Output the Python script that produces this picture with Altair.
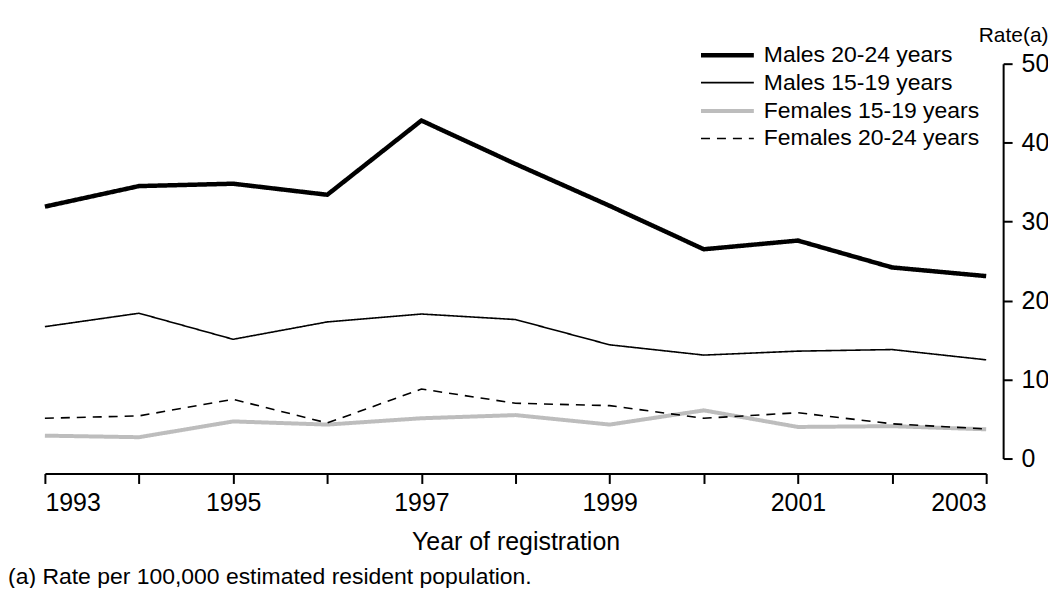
import altair as alt
import pandas as pd

years = list(range(1993, 2004))
males_20_24 = [31.9, 34.5, 34.8, 33.4, 42.8, 37.3, 32.0, 26.5, 27.6, 24.2, 23.1]
males_15_19 = [16.7, 18.4, 15.1, 17.3, 18.3, 17.6, 14.4, 13.1, 13.6, 13.8, 12.5]
females_15_19 = [2.9, 2.7, 4.7, 4.3, 5.1, 5.5, 4.3, 6.1, 4.0, 4.1, 3.7]
females_20_24 = [5.1, 5.4, 7.5, 4.5, 8.8, 7.0, 6.7, 5.1, 5.8, 4.4, 3.75]

series_names = ["Males 20-24 years", "Males 15-19 years",
                "Females 15-19 years", "Females 20-24 years"]
series_values = [males_20_24, males_15_19, females_15_19, females_20_24]
series_colors = ["#000000", "#000000", "#bdbdbd", "#000000"]
series_widths = [4.5, 1.6, 4.0, 1.6]
series_dashes = [[1, 0], [1, 0], [1, 0], [9, 7]]

y_ticks = [0, 10, 20, 30, 40, 50]
x_title = "Year of registration"
y_title = "Rate(a)"
footnote = "(a) Rate per 100,000 estimated resident population."

rows = []
for name, vals in zip(series_names, series_values):
    for yr, v in zip(years, vals):
        rows.append({"year": yr, "rate": v, "series": name})
df = pd.DataFrame(rows)

FONT = "Liberation Sans"

chart = alt.Chart(df).mark_line(strokeJoin="miter", strokeCap="butt").encode(
    x=alt.X("year:Q",
            scale=alt.Scale(domain=[1993, 2003], nice=False, zero=False),
            axis=alt.Axis(values=years, format="d",
                          labelExpr="datum.value % 2 == 1 ? datum.value : ''",
                          offset=15, tickSize=10, labelPadding=7,
                          labelFontSize=25, title=x_title,
                          titleFontSize=25, titleFontWeight="normal",
                          titleY=68, titleBaseline="middle")),
    y=alt.Y("rate:Q",
            scale=alt.Scale(domain=[0, 50], nice=False),
            axis=alt.Axis(orient="right", values=y_ticks, offset=17,
                          tickSize=9, labelPadding=9, labelFontSize=25,
                          title=y_title, titleAngle=0, titleX=45,
                          titleY=-22, titleAlign="right",
                          titleBaseline="alphabetic", titleFontSize=21,
                          titleFontWeight="normal")),
    color=alt.Color("series:N",
                    scale=alt.Scale(domain=series_names, range=series_colors),
                    legend=alt.Legend(title=None)),
    strokeWidth=alt.StrokeWidth("series:N",
                                scale=alt.Scale(type="ordinal", domain=series_names,
                                                range=series_widths),
                                legend=alt.Legend(title=None)),
    strokeDash=alt.StrokeDash("series:N",
                              scale=alt.Scale(domain=series_names, range=series_dashes),
                              legend=alt.Legend(title=None)),
    order=alt.Order("year:Q"),
).properties(
    width=944,
    height=396,
    autosize=alt.AutoSizeParams(type="none"),
    padding={"left": 37, "top": 55, "right": 62, "bottom": 129},
    title=alt.TitleParams(text=footnote, orient="bottom", anchor="start",
                          frame="group", dx=-37, offset=12, fontSize=23,
                          font=FONT, fontWeight="normal", color="black"),
).configure_view(
    stroke=None
).configure_axis(
    grid=False, domainColor="black", domainWidth=2, tickColor="black",
    tickWidth=2, labelColor="black", labelFont=FONT, titleFont=FONT,
    titleColor="black"
).configure_legend(
    orient="none", legendX=669, legendY=-24, symbolType="M-2,0H2",
    symbolSize=702, labelFont=FONT, labelFontSize=23, labelColor="black",
    labelOffset=21, rowPadding=0.5, padding=0, labelLimit=0,
    symbolStrokeColor="black"
)

chart.save("out.html", embed_options={"renderer": "svg", "actions": False})
